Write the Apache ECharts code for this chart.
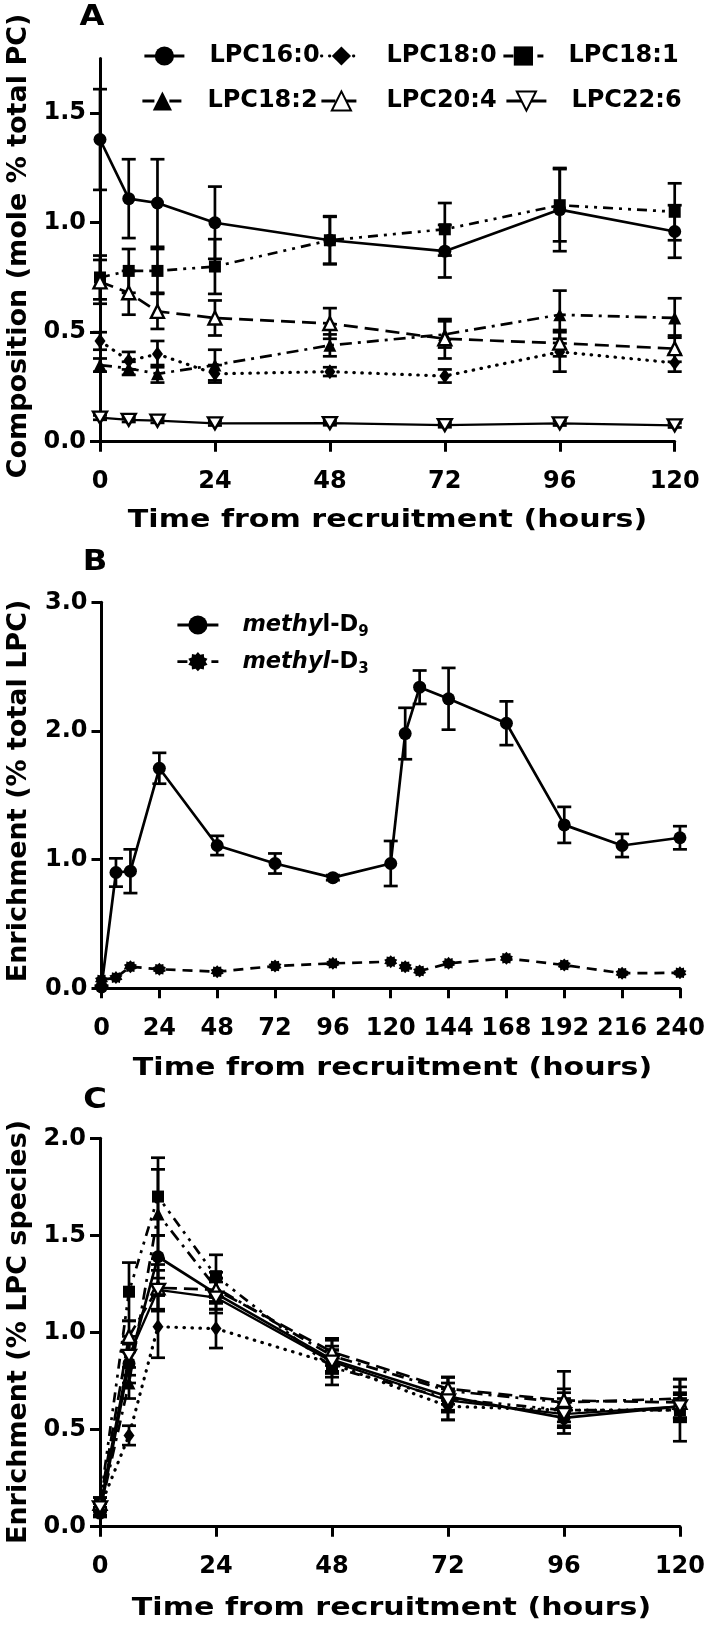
<!DOCTYPE html>
<html><head><meta charset="utf-8">
<script src="https://cdn.jsdelivr.net/npm/echarts@6/dist/echarts.min.js"></script>
<style>html,body{margin:0;padding:0;background:#fff}#c{width:708px;height:1627px}</style>
</head><body><div id="c"></div>
<script>
// ---------------- DATA ----------------
const timesA = [0, 6, 12, 24, 48, 72, 96, 120];
const xTicksA = [0, 24, 48, 72, 96, 120];
const yTicksA = [0, 0.5, 1.0, 1.5];
// Panel A: composition (mole % total PC)
const lpc160A = [1.38, 1.11, 1.09, 1.00, 0.92, 0.87, 1.06, 0.96];
const lpc160Asd = [0.23, 0.18, 0.20, 0.165, 0.11, 0.12, 0.19, 0.12];
const lpc180A = [0.46, 0.37, 0.40, 0.31, 0.32, 0.30, 0.41, 0.36];
const lpc180Asd = [0.04, 0.04, 0.06, 0.04, 0.02, 0.03, 0.09, 0.04];
const lpc181A = [0.75, 0.78, 0.78, 0.80, 0.92, 0.97, 1.08, 1.05];
const lpc181Asd = [0.10, 0.10, 0.10, 0.125, 0.107, 0.12, 0.165, 0.13];
const lpc182A = [0.35, 0.335, 0.31, 0.35, 0.44, 0.49, 0.58, 0.565];
const lpc182Asd = [0.03, 0.03, 0.04, 0.07, 0.05, 0.06, 0.11, 0.09];
const lpc204A = [0.73, 0.68, 0.595, 0.565, 0.54, 0.47, 0.45, 0.425];
const lpc204Asd = [0.10, 0.10, 0.08, 0.08, 0.07, 0.09, 0.06, 0.06];
const lpc226A = [0.11, 0.10, 0.096, 0.084, 0.085, 0.076, 0.084, 0.075];
const lpc226Asd = [0.01, 0.01, 0.01, 0.01, 0.01, 0.01, 0.01, 0.01];

// Panel B: enrichment (% total LPC)
const timesB = [0, 6, 12, 24, 48, 72, 96, 120, 126, 132, 144, 168, 192, 216, 240];
const xTicksB = [0, 24, 48, 72, 96, 120, 144, 168, 192, 216, 240];
const yTicksB = [0, 1, 2, 3];
const d9 = [0.01, 0.90, 0.91, 1.71, 1.11, 0.97, 0.86, 0.97, 1.98, 2.34, 2.25, 2.06, 1.27, 1.11, 1.17];
const d9sd = [0.01, 0.11, 0.17, 0.12, 0.075, 0.078, 0.02, 0.175, 0.20, 0.13, 0.24, 0.17, 0.14, 0.09, 0.09];
const d3 = [0.065, 0.083, 0.168, 0.148, 0.129, 0.173, 0.194, 0.207, 0.168, 0.134, 0.194, 0.233, 0.181, 0.117, 0.12];

// Panel C: enrichment (% LPC species)
const yTicksC = [0, 0.5, 1.0, 1.5, 2.0];
const lpc160C = [0.07, 0.84, 1.39, 1.20, 0.86, 0.67, 0.56, 0.62];
const lpc160Csd = [0.02, 0.10, 0.11, 0.08, 0.07, 0.07, 0.05, 0.06];
const lpc180C = [0.10, 0.47, 1.03, 1.02, 0.84, 0.62, 0.60, 0.60];
const lpc180Csd = [0.02, 0.05, 0.16, 0.10, 0.07, 0.07, 0.06, 0.06];
const lpc181C = [0.12, 1.21, 1.70, 1.29, 0.82, 0.66, 0.60, 0.60];
const lpc181Csd = [0.03, 0.15, 0.20, 0.11, 0.09, 0.11, 0.09, 0.16];
const lpc182C = [0.08, 0.74, 1.61, 1.23, 0.88, 0.70, 0.64, 0.66];
const lpc182Csd = [0.02, 0.08, 0.23, 0.08, 0.08, 0.07, 0.16, 0.10];
const lpc204C = [0.12, 0.98, 1.23, 1.22, 0.90, 0.71, 0.65, 0.64];
const lpc204Csd = [0.03, 0.08, 0.12, 0.06, 0.07, 0.06, 0.06, 0.08];
const lpc226C = [0.10, 0.88, 1.22, 1.18, 0.85, 0.65, 0.58, 0.62];
const lpc226Csd = [0.02, 0.10, 0.10, 0.08, 0.06, 0.06, 0.06, 0.07];

const speciesNames = ['LPC16:0', 'LPC18:0', 'LPC18:1', 'LPC18:2', 'LPC20:4', 'LPC22:6'];
const panelA = [[lpc160A, lpc160Asd], [lpc180A, lpc180Asd], [lpc181A, lpc181Asd], [lpc182A, lpc182Asd], [lpc204A, lpc204Asd], [lpc226A, lpc226Asd]];
const panelC = [[lpc160C, lpc160Csd], [lpc180C, lpc180Csd], [lpc181C, lpc181Csd], [lpc182C, lpc182Csd], [lpc204C, lpc204Csd], [lpc226C, lpc226Csd]];

// ---------------- STYLE ----------------
const FONT = 'DejaVu Sans';
function starPath(n, rOut, rIn) {
  let d = '';
  for (let k = 0; k < 2 * n; k++) {
    const a = k * Math.PI / n, r = (k % 2) ? rIn : rOut;
    d += (k ? 'L' : 'M') + (50 + r * Math.sin(a)).toFixed(2) + ' ' + (50 - r * Math.cos(a)).toFixed(2) + ' ';
  }
  return 'path://' + d + 'Z';
}
const speciesStyle = [
  {symbol: 'circle', size: 13, fill: '#000', dash: 'solid', lw: 2.7},
  {symbol: 'diamond', size: [11, 15], fill: '#000', dash: [0.5, 7.5], lw: 3.2, cap: 'round'},
  {symbol: 'rect', size: 12, fill: '#000', dash: [10, 6, 3, 6, 3, 6], lw: 2.7},
  {symbol: 'triangle', size: 13, fill: '#000', dash: [12, 6, 3, 6], lw: 2.7},
  {symbol: 'triangle', size: [13, 13], fill: '#fff', dash: [14, 7], lw: 2.7},
  {symbol: 'triangle', size: [14, 12], rotate: 180, fill: '#fff', dash: 'solid', lw: 2.3}
];

function errRender(params, api) {
  const x = api.value(0), lo = api.value(1), hi = api.value(2);
  const a = api.coord([x, lo]), b = api.coord([x, hi]);
  const w = 7, st = {stroke: '#000', lineWidth: 2.7};
  return {type: 'group', children: [
    {type: 'line', shape: {x1: a[0], y1: a[1], x2: b[0], y2: b[1]}, style: st},
    {type: 'line', shape: {x1: b[0] - w, y1: b[1], x2: b[0] + w, y2: b[1]}, style: st},
    {type: 'line', shape: {x1: a[0] - w, y1: a[1], x2: a[0] + w, y2: a[1]}, style: st}
  ]};
}
function errSeries(times, vals, sds, gi) {
  return {type: 'custom', xAxisIndex: gi, yAxisIndex: gi, renderItem: errRender, z: 2, silent: true,
    encode: {x: 0, y: [1, 2]},
    data: times.map((t, i) => [t, vals[i] - sds[i], vals[i] + sds[i]])};
}
function lineSeries(name, times, vals, st, gi) {
  return {type: 'line', name, xAxisIndex: gi, yAxisIndex: gi, z: 3,
    data: times.map((t, i) => [t, vals[i]]),
    symbol: st.symbol, symbolSize: st.size, symbolRotate: st.rotate || 0, showAllSymbol: true,
    lineStyle: {color: '#000', width: st.lw, type: st.dash, cap: st.cap || 'butt'},
    itemStyle: {color: st.fill, borderColor: '#000', borderWidth: st.fill === '#fff' ? 2.4 : 0},
    emphasis: {disabled: true}, clip: false};
}

const series = [];
[[panelA, 0], [panelC, 2]].forEach(([panel, gi]) => {
  panel.forEach(([v, sd], k) => {
    series.push(errSeries(timesA, v, sd, gi));
    series.push(lineSeries(speciesNames[k], timesA, v, speciesStyle[k], gi));
  });
});
series.push(errSeries(timesB, d9, d9sd, 1));
series.push(lineSeries('methyl-D9', timesB, d9, {symbol: 'circle', size: 13, fill: '#000', dash: 'solid', lw: 2.7}, 1));
series.push(lineSeries('methyl-D3', timesB, d3, {symbol: starPath(10, 50, 38), size: 13, fill: '#000', dash: [10, 7], lw: 2.7}, 1));

const axisLineStyle = {color: '#000', width: 3};
const labelStyle = {fontSize: 24, fontWeight: 'bold', fontFamily: FONT, color: '#000'};
function xAx(gi, max, ticks) {
  return {gridIndex: gi, type: 'value', min: 0, max, interval: 24,
    axisLine: {show: true, onZero: false, lineStyle: axisLineStyle},
    axisTick: {show: true, length: 10, lineStyle: axisLineStyle, customValues: ticks},
    axisLabel: Object.assign({margin: 28, customValues: ticks}, labelStyle),
    splitLine: {show: false}};
}
function yAx(gi, max, ticks) {
  return {gridIndex: gi, type: 'value', min: 0, max,
    axisLine: {show: true, onZero: false, lineStyle: axisLineStyle},
    axisTick: {show: true, length: 10, lineStyle: axisLineStyle, customValues: ticks},
    axisLabel: Object.assign({margin: 14, customValues: ticks, formatter: v => v.toFixed(1)}, labelStyle),
    splitLine: {show: false}};
}

function legendItem(name, left, top) {
  return {data: [name], left, top, orient: 'horizontal', padding: 0, itemGap: 0,
    itemWidth: 40, itemHeight: 24, selectedMode: false,
    lineStyle: {width: 2.8},
    textStyle: {fontSize: 24, fontWeight: 'bold', fontFamily: FONT, color: '#000', lineHeight: 26, padding: [0, 0, 0, 20]}};
}
const richB = {
  it: {fontStyle: 'italic', fontWeight: 'bold', fontSize: 22.5, fontFamily: FONT, color: '#000', lineHeight: 30},
  n: {fontWeight: 'bold', fontSize: 22.5, fontFamily: FONT, color: '#000', lineHeight: 30},
  s: {fontWeight: 'bold', fontSize: 15, fontFamily: FONT, color: '#000', lineHeight: 18, verticalAlign: 'bottom'}
};
function legendB(name, top, fmt) {
  return {data: [name], left: 176, top, padding: 0, itemGap: 0, itemWidth: 41, itemHeight: 24, selectedMode: false,
    lineStyle: {width: 2.8},
    formatter: () => fmt,
    textStyle: {fontSize: 22.5, fontWeight: 'bold', fontFamily: FONT, color: '#000', lineHeight: 30, padding: [0, 0, 0, 19], rich: richB}};
}

function txt(text, x, y, size, rot, sx) {
  return {type: 'text', x, y, rotation: rot || 0, scaleX: sx || 1, silent: true,
    style: {text, fontSize: size, fontWeight: 'bold', fontFamily: FONT, fill: '#000', align: 'center', verticalAlign: 'middle'}};
}

const option = {
  animation: false,
  backgroundColor: '#fff',
  grid: [
    {left: 100, top: 58.5, width: 574.7, height: 383.2},
    {left: 101.5, top: 602.3, width: 581.5, height: 386},
    {left: 100, top: 1138.3, width: 583, height: 388.4}
  ],
  xAxis: [xAx(0, 120, xTicksA), xAx(1, 240, xTicksB), xAx(2, 120, xTicksA)],
  yAxis: [yAx(0, 1.75, yTicksA), yAx(1, 3, yTicksB), yAx(2, 2, yTicksC)],
  legend: [
    legendItem('LPC16:0', 143, 43), legendItem('LPC18:0', 320, 43), legendItem('LPC18:1', 502, 43),
    legendItem('LPC18:2', 141, 88), legendItem('LPC20:4', 320, 88), legendItem('LPC22:6', 505, 88),
    legendB('methyl-D9', 610, '{it|methy}{n|l-D}{s|9}'),
    legendB('methyl-D3', 646.7, '{it|methyl}{n|-D}{s|3}')
  ],
  graphic: [
    txt('A', 92, 18, 28, 0, 1.15), txt('B', 95, 563, 28, 0, 1.15), txt('C', 95, 1101, 28, 0, 1.15),
    txt('Time from recruitment (hours)', 387.5, 520.5, 25.5, 0, 1.18),
    txt('Time from recruitment (hours)', 392.5, 1068.5, 25.5, 0, 1.18),
    txt('Time from recruitment (hours)', 391.5, 1608.5, 25.5, 0, 1.18),
    txt('Composition (mole % total PC)', 19, 246, 27, Math.PI / 2),
    txt('Enrichment (% total LPC)', 19, 791, 27, Math.PI / 2),
    txt('Enrichment (% LPC species)', 19, 1332, 27, Math.PI / 2)
  ],
  series
};
const chart = echarts.init(document.getElementById('c'), null, {renderer: 'canvas', width: 708, height: 1627});
chart.setOption(option);
</script></body></html>
